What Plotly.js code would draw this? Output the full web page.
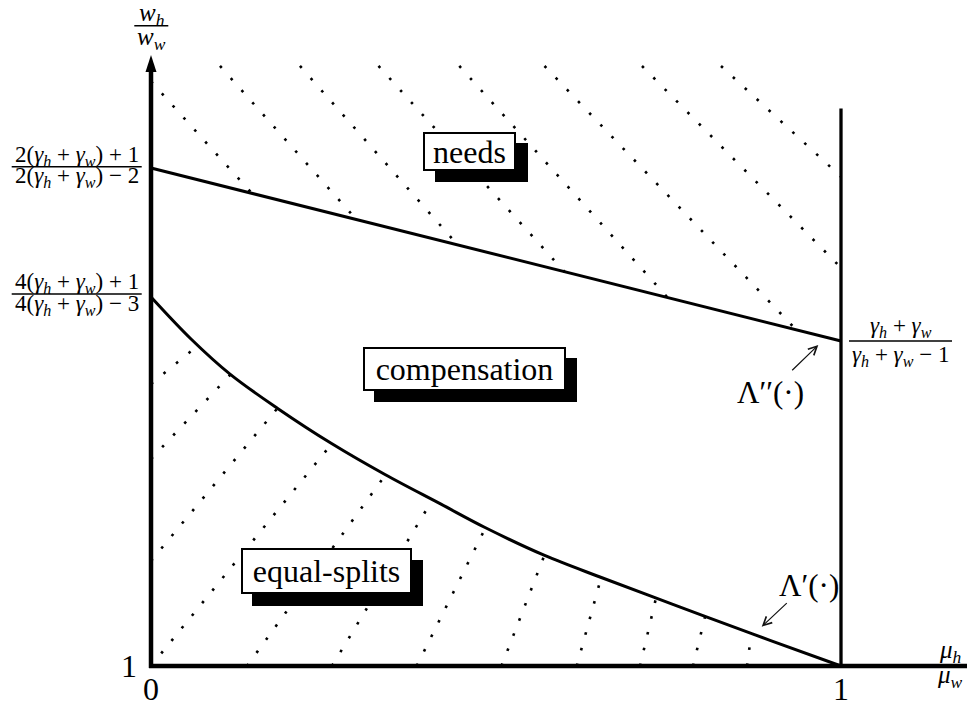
<!DOCTYPE html>
<html>
<head>
<meta charset="utf-8">
<script src="https://cdn.plot.ly/plotly-3.0.1.min.js"></script>
<style>body{margin:0;background:#fff}</style>
</head>
<body>
<div id="chart" style="width:967px;height:701px"></div>
<script>
// schematic regions in the (mu_h/mu_w , w_h/w_w) plane, y scale is not to size
var U = 1 / 690; // data units per pixel (both axes)

// Lambda'(.) boundary, equal-splits / compensation
var lowerX = [0, 0.058, 0.1145, 0.1841, 0.2623, 0.3391, 0.4203, 0.4841, 0.5696, 0.6507, 0.7275, 0.8, 0.8971, 1.0];
var lowerY = [1.5348, 1.4739, 1.4230, 1.3729, 1.3220, 1.2775, 1.2345, 1.2007, 1.1606, 1.1290, 1.1001, 1.0730, 1.0371, 1.0];
// Lambda''(.) boundary, compensation / needs
var upperX = [0, 1];
var upperY = [1.7217, 1.4710];
// mu_h/mu_w = 1 border
var borderX = [1, 1];
var borderY = [1, 1.808];

// dotted hatching in the needs region
var needsHatchX0 = [0, 0.1, 0.2159, 0.3297, 0.4468, 0.5703, 0.7116, 0.8261];
var needsHatchY0 = [1.8472, 1.8696, 1.8696, 1.8696, 1.8696, 1.8696, 1.8696, 1.8696];
var needsHatchX1 = [0.1461, 0.2983, 0.4454, 0.6, 0.7493, 0.9333, 1, 1];
var needsHatchY1 = [1.6851, 1.6464, 1.6091, 1.5706, 1.5333, 1.4891, 1.5772, 1.7091];

// dotted hatching in the equal-splits region
var splitHatchX0 = [0, 0, 0, 0, 0.1391, 0.2623, 0.3851, 0.508, 0.617, 0.7087, 0.7855, 0.8638];
var splitHatchY0 = [1.4087, 1.3, 1.1522, 1, 1, 1, 1, 1, 1, 1, 1, 1];
var splitHatchX1 = [0.0686, 0.1145, 0.1836, 0.2619, 0.3391, 0.4083, 0.4841, 0.5696, 0.6522, 0.7319, 0.8029, 0.8696];
var splitHatchY1 = [1.4650, 1.4217, 1.3740, 1.3220, 1.2760, 1.2415, 1.1990, 1.1590, 1.1275, 1.0986, 1.0710, 1.0435];

// tick labels
var SP = '\u2005';
function gam(s) { return '<i>γ</i><sub><i>' + s + '</i></sub>'; }
var G = gam('h') + SP + '+' + SP + gam('w');
var xTickVals = [0, 1];
var xTickText = ['0', '1'];
var yFracVals = [1.7217, 1.5348];
var yFracNum = ['2(' + G + ')' + SP + '+' + SP + '1', '4(' + G + ')' + SP + '+' + SP + '1'];
var yFracDen = ['2(' + G + ')' + SP + '−' + SP + '2', '4(' + G + ')' + SP + '−' + SP + '3'];
var endVal = 1.4710;
var endNum = G;
var endDen = G + SP + '−' + SP + '1';

var regionText = ['needs', 'compensation', 'equal-splits'];

var FONT = 'Liberation Serif, DejaVu Serif, serif';

var data = [];
function hatch(x0, y0, x1, y1) {
  for (var i = 0; i < x0.length; i++) {
    data.push({
      x: [x0[i], x1[i]], y: [y0[i], y1[i]],
      mode: 'lines', hoverinfo: 'skip',
      line: {color: 'black', width: 2.6, dash: '2.6px,13.6px'}
    });
  }
}
hatch(needsHatchX0, needsHatchY0, needsHatchX1, needsHatchY1);
hatch(splitHatchX0, splitHatchY0, splitHatchX1, splitHatchY1);

data.push({x: lowerX, y: lowerY, mode: 'lines', hoverinfo: 'skip',
  line: {color: 'black', width: 3, shape: 'spline', smoothing: 1}});
data.push({x: upperX, y: upperY, mode: 'lines', hoverinfo: 'skip',
  line: {color: 'black', width: 3}});
data.push({x: borderX, y: borderY, mode: 'lines', hoverinfo: 'skip',
  line: {color: 'black', width: 3.3}});

var shapes = [];
var annotations = [];

// axes with arrow heads
var yTip = 1 + 611 * U, xTip = 1 + 770.5 * U;
shapes.push({type: 'line', xref: 'x', yref: 'y', x0: 0, x1: 0, y0: 1 - 2 * U, y1: yTip - 14 * U,
  line: {color: 'black', width: 4.5}});
shapes.push({type: 'line', xref: 'x', yref: 'y', x0: -2 * U, x1: xTip - 14 * U, y0: 1, y1: 1,
  line: {color: 'black', width: 4.5}});
shapes.push({type: 'path', xref: 'x', yref: 'y', fillcolor: 'black', line: {width: 0},
  path: 'M0,' + yTip + ' L' + (5.5 * U) + ',' + (yTip - 17 * U) + ' L' + (-5.5 * U) + ',' + (yTip - 17 * U) + ' Z'});
shapes.push({type: 'path', xref: 'x', yref: 'y', fillcolor: 'black', line: {width: 0},
  path: 'M' + xTip + ',1 L' + (xTip - 17 * U) + ',' + (1 + 6 * U) + ' L' + (xTip - 17 * U) + ',' + (1 - 6 * U) + ' Z'});

function note(x, y, text, size, xs, ys) {
  annotations.push({x: x, y: y, xref: 'x', yref: 'y', text: text, showarrow: false,
    xshift: xs || 0, yshift: ys || 0, font: {family: FONT, size: size, color: 'black'}});
}
function bar(xa, y, p0, p1) {
  shapes.push({type: 'line', xref: 'x', yref: 'y', xsizemode: 'pixel', xanchor: xa,
    x0: p0, x1: p1, y0: y, y1: y, line: {color: 'black', width: 1.5}});
}

// tick numbers
for (var i = 0; i < xTickVals.length; i++) note(xTickVals[i], 1, xTickText[i], 32, -0.5, -22.5);
note(0, 1, '1', 32, -22, 0);

// fraction ticks on the y axis
var barOff = [1.3, 3];
for (var j = 0; j < yFracVals.length; j++) {
  var by = yFracVals[j] + barOff[j] * U;
  bar(0, by, -139.3, -9.3);
  note(0, by, yFracNum[j], 23, -74.3, 11);
  note(0, by, yFracDen[j], 23, -74.3, -10.7);
}
bar(1, endVal, 8, 111);
note(1, endVal, endNum, 23, 59.5, 14);
note(1, endVal, endDen, 23, 59.5, -14.5);

// axis titles
var wy = 1 + 640.3 * U;
bar(0, wy, -16.7, 17.3);
note(0, wy, '<i>w</i><sub><i>h</i></sub>', 25, 0.5, 11);
note(0, wy, '<i>w</i><sub><i>w</i></sub>', 25, 0.5, -13);
bar(1, 1, 93, 125);
note(1, 1, '<i>μ</i><sub><i>h</i></sub>', 25, 109, 15);
note(1, 1, '<i>μ</i><sub><i>w</i></sub>', 25, 109, -10);

// region labels: shadow box then framed box
var boxX = [0.4619, 0.4541, 0.2541];
var boxY = [1.7461, 1.4309, 1.1374];
var boxW = [87, 197, 165];
var boxH = [33, 38, 40];
for (var k = 0; k < regionText.length; k++) {
  annotations.push({x: boxX[k], y: boxY[k], xref: 'x', yref: 'y', text: regionText[k], showarrow: false,
    width: boxW[k], height: boxH[k], xshift: 11.5, yshift: -11.5, bgcolor: 'black', bordercolor: 'black',
    borderwidth: 2, borderpad: 1, font: {family: FONT, size: 32, color: 'black'}});
  annotations.push({x: boxX[k], y: boxY[k], xref: 'x', yref: 'y', text: regionText[k], showarrow: false,
    width: boxW[k], height: boxH[k], bgcolor: 'white', bordercolor: 'black',
    borderwidth: 2, borderpad: 1, font: {family: FONT, size: 32, color: 'black'}});
}

// boundary names with pointers
note(0.8971, 1.3968, 'Λ′′(·)', 31);
note(0.9536, 1.1167, 'Λ′(·)', 31);
annotations.push({x: 0.9671, y: 1.4652, ax: 0.9271, ay: 1.4265, xref: 'x', yref: 'y', axref: 'x', ayref: 'y',
  text: '', showarrow: true, arrowhead: 5, arrowsize: 1.4, arrowwidth: 1.2, arrowcolor: '#111'});
annotations.push({x: 0.8851, y: 1.0570, ax: 0.9236, ay: 1.0932, xref: 'x', yref: 'y', axref: 'x', ayref: 'y',
  text: '', showarrow: true, arrowhead: 5, arrowsize: 1.4, arrowwidth: 1.2, arrowcolor: '#111'});

var layout = {
  width: 967, height: 701, autosize: false,
  margin: {l: 0, r: 0, t: 0, b: 0, pad: 0},
  paper_bgcolor: 'white', plot_bgcolor: 'white',
  showlegend: false,
  xaxis: {range: [-151 * U, 816 * U], visible: false, fixedrange: true},
  yaxis: {range: [1 - 35 * U, 1 + 666 * U], visible: false, fixedrange: true},
  shapes: shapes,
  annotations: annotations
};

Plotly.newPlot('chart', data, layout, {displayModeBar: false, staticPlot: true});
</script>
</body>
</html>
